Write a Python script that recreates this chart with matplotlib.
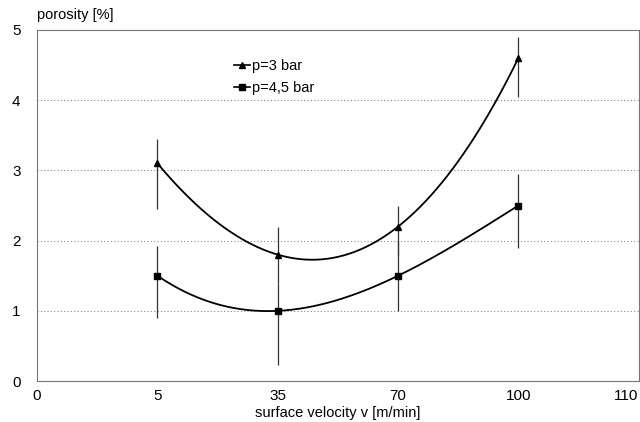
import numpy as np
import matplotlib
matplotlib.use("Agg")
import matplotlib.pyplot as plt

plt.rcParams['font.family'] = ['Liberation Sans', 'DejaVu Sans']

# categories on the x axis (equally spaced)
x_labels = ["0", "5", "35", "70", "100", "110"]
data_pos = [1, 2, 3, 4]  # index of 5, 35, 70, 100

# porosity values
p3 = [3.1, 1.8, 2.2, 4.6]
p3_err_lo = [0.65, 0.4, 0.4, 0.55]
p3_err_hi = [0.35, 0.4, 0.3, 0.3]

p45 = [1.5, 1.0, 1.5, 2.5]
p45_err_lo = [0.6, 0.77, 0.5, 0.6]
p45_err_hi = [0.42, 0.4, 0.5, 0.45]

fig = plt.figure(figsize=(6.4, 4.22), dpi=100)
ax = fig.add_axes([0.058, 0.097, 0.94, 0.832])

# horizontal dotted grid
for yv in [1, 2, 3, 4]:
    ax.axhline(yv, color='#888888', lw=0.8, ls=(0, (1, 2)), zorder=0)

# error bars
ax.errorbar(data_pos, p3, yerr=[p3_err_lo, p3_err_hi], fmt='none',
            ecolor='#333333', elinewidth=0.9, capsize=0, zorder=1)
ax.errorbar(data_pos, p45, yerr=[p45_err_lo, p45_err_hi], fmt='none',
            ecolor='#333333', elinewidth=0.9, capsize=0, zorder=1)

# smooth curves through the points (cubic through 4 points)
xs = np.linspace(data_pos[0], data_pos[-1], 200)
for vals in (p3, p45):
    coef = np.polyfit(data_pos, vals, 3)
    ax.plot(xs, np.polyval(coef, xs), color='black', lw=1.3, zorder=2)

ax.plot(data_pos, p3, ls='none', marker='^', ms=4.5, color='black', zorder=3)
ax.plot(data_pos, p45, ls='none', marker='s', ms=5, color='black', zorder=3)

# legend
h1, = ax.plot([], [], color='black', lw=1.2, marker='^', ms=4.5)
h2, = ax.plot([], [], color='black', lw=1.2, marker='s', ms=5)
ax.legend([h1, h2], ["p=3 bar", "p=4,5 bar"], loc='upper left',
          bbox_to_anchor=(0.305, 0.955), frameon=False, handlelength=1.1,
          handletextpad=0.15, labelspacing=0.55, fontsize=10.5)

ax.set_xlim(0, 5)
ax.set_ylim(0, 5)
ax.set_xticks(range(len(x_labels)))
ax.set_xticklabels(x_labels)
ax.get_xticklabels()[-1].set_horizontalalignment('right')
ax.set_yticks([0, 1, 2, 3, 4, 5])
ax.tick_params(length=0, labelsize=11, pad=6)
ax.tick_params(axis='y', pad=12)

for s in ax.spines.values():
    s.set_color('#777777')
    s.set_linewidth(0.8)

fig.text(0.058, 0.948, "porosity [%]", fontsize=10.5, ha='left', va='bottom')
ax.set_xlabel("surface velocity v [m/min]", fontsize=10.5, labelpad=2)

fig.savefig("out.png", dpi=100)
